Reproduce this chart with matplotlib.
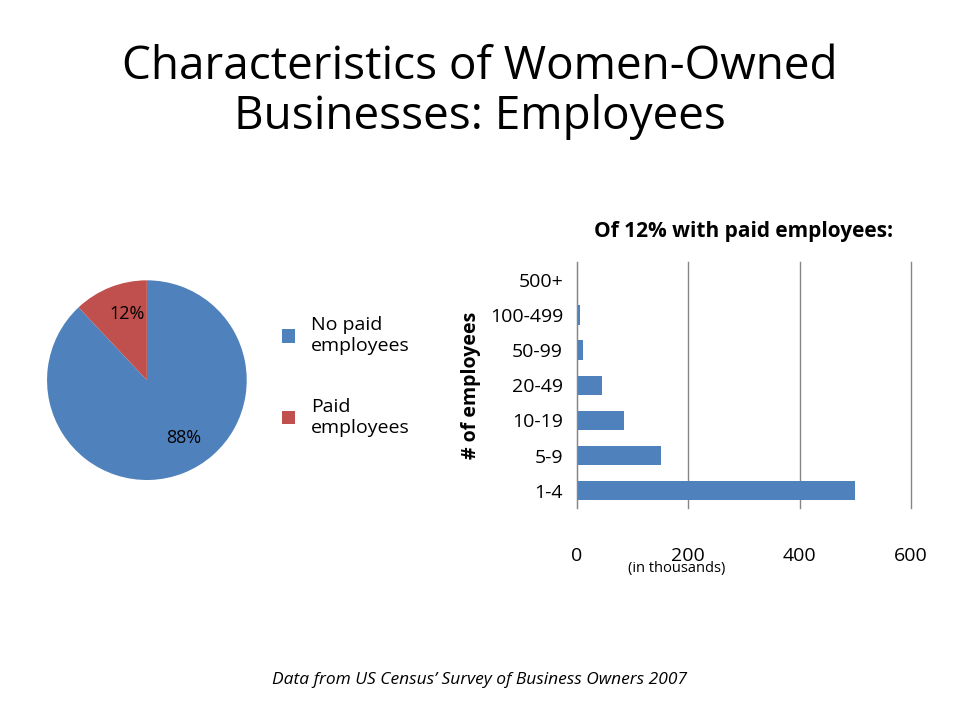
import matplotlib.pyplot as plt

plt.rcParams["font.family"] = "Open Sans"

pie_labels = ["No paid\nemployees", "Paid\nemployees"]
pie_values = [88, 12]
size_classes = ["1-4", "5-9", "10-19", "20-49", "50-99", "100-499", "500+"]
firm_counts = [500, 151, 84, 45, 11, 5, 2]  # thousands

blue = "#4f81bd"
red = "#c0504d"

fig = plt.figure(figsize=(9.6, 7.2), dpi=100)
fig.text(0.5, 0.872, "Characteristics of Women-Owned\nBusinesses: Employees",
         ha="center", va="center", fontsize=33, linespacing=1.1)

# pie
ax1 = fig.add_axes([0.049, 0.333, 0.208, 0.278])
wedges, _, autotexts = ax1.pie(pie_values, colors=[blue, red], startangle=90,
                               counterclock=False, autopct="%d%%", pctdistance=0.55,
                               textprops={"fontsize": 13})
autotexts[0].set_position((0.37, -0.58))
autotexts[1].set_position((-0.2, 0.66))
ax1.set_xlim(-1, 1)
ax1.set_ylim(-1, 1)
ax1.set_aspect("equal")
fig.legend(wedges, pie_labels, loc="upper left", bbox_to_anchor=(0.275, 0.585),
           frameon=False, fontsize=14, handlelength=0.7, handleheight=0.7,
           labelspacing=2.2)

# bars
ax2 = fig.add_axes([0.601, 0.294, 0.348, 0.342])
ax2.barh(size_classes, firm_counts, color=blue, height=0.55)
ax2.set_xlim(0, 600)
ax2.set_ylim(-0.5, 6.5)
ax2.set_xticks([0, 200, 400, 600])
ax2.grid(axis="x", color="#868686", linewidth=1, clip_on=False)
for gl in ax2.get_xgridlines():
    gl.set_clip_on(False)
ax2.set_axisbelow(True)
for s in ["top", "right", "bottom"]:
    ax2.spines[s].set_visible(False)
ax2.spines["left"].set_color("#868686")
ax2.tick_params(length=0, labelsize=14, pad=10)
ax2.tick_params(axis="x", pad=28)
ax2.set_ylabel("# of employees", fontsize=14, fontweight="bold", labelpad=6)
ax2.set_title("Of 12% with paid employees:", fontsize=15, fontweight="bold", pad=18)
fig.text(0.705, 0.205, "(in thousands)", ha="center", fontsize=10.5)

fig.text(0.5, 0.05, "Data from US Census\u2019 Survey of Business Owners 2007",
         ha="center", fontsize=12.5, style="italic")

fig.savefig("out.png")
